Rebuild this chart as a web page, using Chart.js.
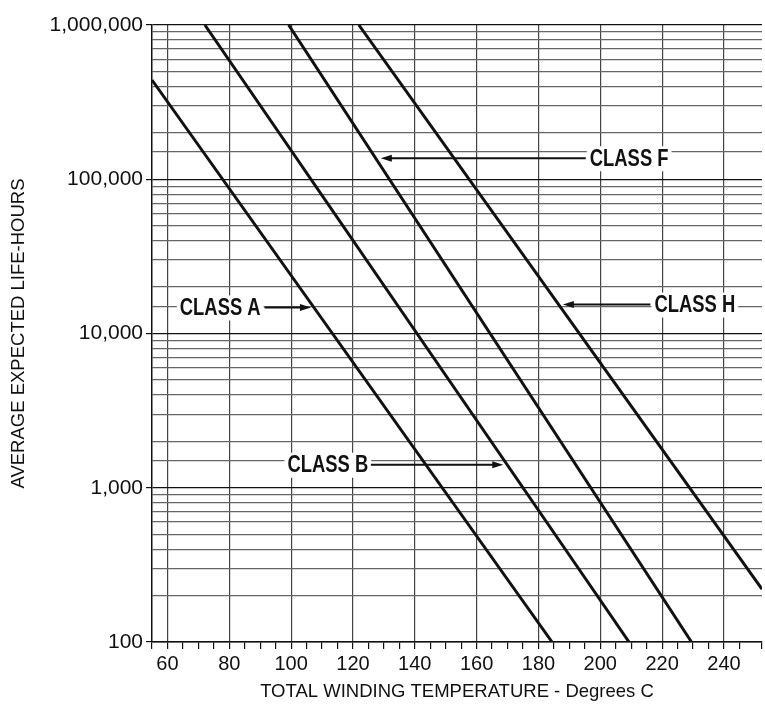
<!DOCTYPE html>
<html lang="en">
<head>
  <meta charset="UTF-8">
  <title>Insulation class life vs winding temperature</title>
  <script src="https://cdn.jsdelivr.net/npm/chart.js"></script>
  <style>
    body { margin: 0; background: #fff; }
    canvas { display: block; }
  </style>
</head>
<body>
  <canvas id="myChart" width="765" height="709"></canvas>

  <script>
    // straight lines on the log chart, two ends each (temperature in C, life in hours)
    const classNames = ["CLASS A", "CLASS B", "CLASS F", "CLASS H"];
    const tempA = [55, 184.4];
    const lifeA = [440000, 100];
    const tempB = [72.1, 209.3];
    const lifeB = [1000000, 100];
    const tempF = [99.2, 229.5];
    const lifeF = [1000000, 100];
    const tempH = [121.9, 252.3];
    const lifeH = [1000000, 220];

    // labels with arrows pointing to each line
    const noteTextTemp = [64.0, 98.8, 196.6, 217.5];
    const noteLife = [14750, 1410, 136800, 15400];
    const arrowFromTemp = [91.4, 125.8, 195.3, 216.2];
    const arrowToTemp = [106.4, 168.6, 129.0, 187.9];

    const xLabelStep = 20;
    const xMin = 55, xMax = 252.3;
    const yMin = 100, yMax = 1000000;

    const sans = "'Liberation Sans', Arial, sans-serif";

    const isPow10 = v => Math.abs(Math.log10(v) - Math.round(Math.log10(v))) < 1e-9;

    const toPoints = (xs, ys) => xs.map((x, i) => ({ x, y: ys[i] }));

    const lineStyle = {
      showLine: true,
      borderColor: "#111",
      borderWidth: 3,
      pointRadius: 0,
      fill: false
    };

    const notesPlugin = {
      id: "notes",
      afterDatasetsDraw(chart) {
        const { ctx, scales: { x, y } } = chart;
        const squeeze = 0.8;
        ctx.save();
        ctx.font = "bold 23px " + sans;
        ctx.textBaseline = "middle";
        ctx.textAlign = "left";
        classNames.forEach((name, i) => {
          const py = y.getPixelForValue(noteLife[i]);
          const tx = x.getPixelForValue(noteTextTemp[i]);
          const w = ctx.measureText(name).width * squeeze;
          // paper shows through behind the label, grid is broken there
          ctx.fillStyle = "#fff";
          ctx.fillRect(tx - 3, py - 12, w + 6, 25);
          ctx.fillStyle = "#111";
          ctx.strokeStyle = "#111";
          // squeeze the bold face so it reads like the condensed original
          ctx.save();
          ctx.translate(tx, py);
          ctx.scale(squeeze, 1);
          ctx.fillText(name, 0, 1);
          ctx.restore();
          const x0 = x.getPixelForValue(arrowFromTemp[i]);
          const x1 = x.getPixelForValue(arrowToTemp[i]);
          const dir = x1 > x0 ? 1 : -1;
          ctx.lineWidth = 2;
          ctx.beginPath();
          ctx.moveTo(x0, py);
          ctx.lineTo(x1 - dir * 8, py);
          ctx.stroke();
          ctx.beginPath();
          ctx.moveTo(x1, py);
          ctx.lineTo(x1 - dir * 11, py - 3.5);
          ctx.lineTo(x1 - dir * 11, py + 3.5);
          ctx.closePath();
          ctx.fill();
        });
        ctx.restore();
      }
    };

    const ctx = document.getElementById("myChart").getContext("2d");
    new Chart(ctx, {
      type: "scatter",
      data: {
        datasets: [
          { label: classNames[0], data: toPoints(tempA, lifeA), ...lineStyle },
          { label: classNames[1], data: toPoints(tempB, lifeB), ...lineStyle },
          { label: classNames[2], data: toPoints(tempF, lifeF), ...lineStyle },
          { label: classNames[3], data: toPoints(tempH, lifeH), ...lineStyle }
        ]
      },
      options: {
        responsive: false,
        animation: false,
        layout: { padding: { top: 25, right: 0, left: 0, bottom: 0 } },
        plugins: {
          legend: { display: false },
          tooltip: { enabled: false }
        },
        scales: {
          x: {
            type: "linear",
            min: xMin,
            max: xMax,
            afterFit(scale) { scale.height = 67; },
            ticks: {
              stepSize: 5,
              autoSkip: false,
              maxRotation: 0,
              color: "#111",
              padding: 3,
              font: { family: sans, size: 20 },
              callback: v => (v % xLabelStep === 0 ? String(v) : "")
            },
            grid: {
              color: c => (c.tick && c.tick.value % xLabelStep === 0 ? "#444" : "transparent"),
              tickColor: "#111",
              tickLength: 7,
              lineWidth: 1.2
            },
            border: { color: "#111", width: 1.5 },
            title: {
              display: true,
              text: "TOTAL WINDING TEMPERATURE - Degrees C",
              color: "#111",
              font: { family: sans, size: 18.5 },
              padding: { top: 0, bottom: 6 }
            }
          },
          y: {
            type: "logarithmic",
            min: yMin,
            max: yMax,
            afterFit(scale) { scale.width = 152; },
            ticks: {
              autoSkip: false,
              color: "#111",
              padding: 3,
              font: { family: sans, size: 21 },
              callback: v => (isPow10(v) ? Number(v).toLocaleString("en-US") : "")
            },
            grid: {
              color: c => (c.tick && isPow10(c.tick.value) ? "#111" : "#666"),
              tickColor: c => (c.tick && isPow10(c.tick.value) ? "#111" : "transparent"),
              tickLength: 6,
              lineWidth: 1.2
            },
            border: { color: "#111", width: 1.5 },
            title: {
              display: true,
              text: "AVERAGE EXPECTED LIFE-HOURS",
              color: "#111",
              font: { family: sans, size: 18.5 },
              padding: { top: 8, bottom: 0 }
            }
          }
        }
      },
      plugins: [notesPlugin]
    });
  </script>
</body>
</html>
